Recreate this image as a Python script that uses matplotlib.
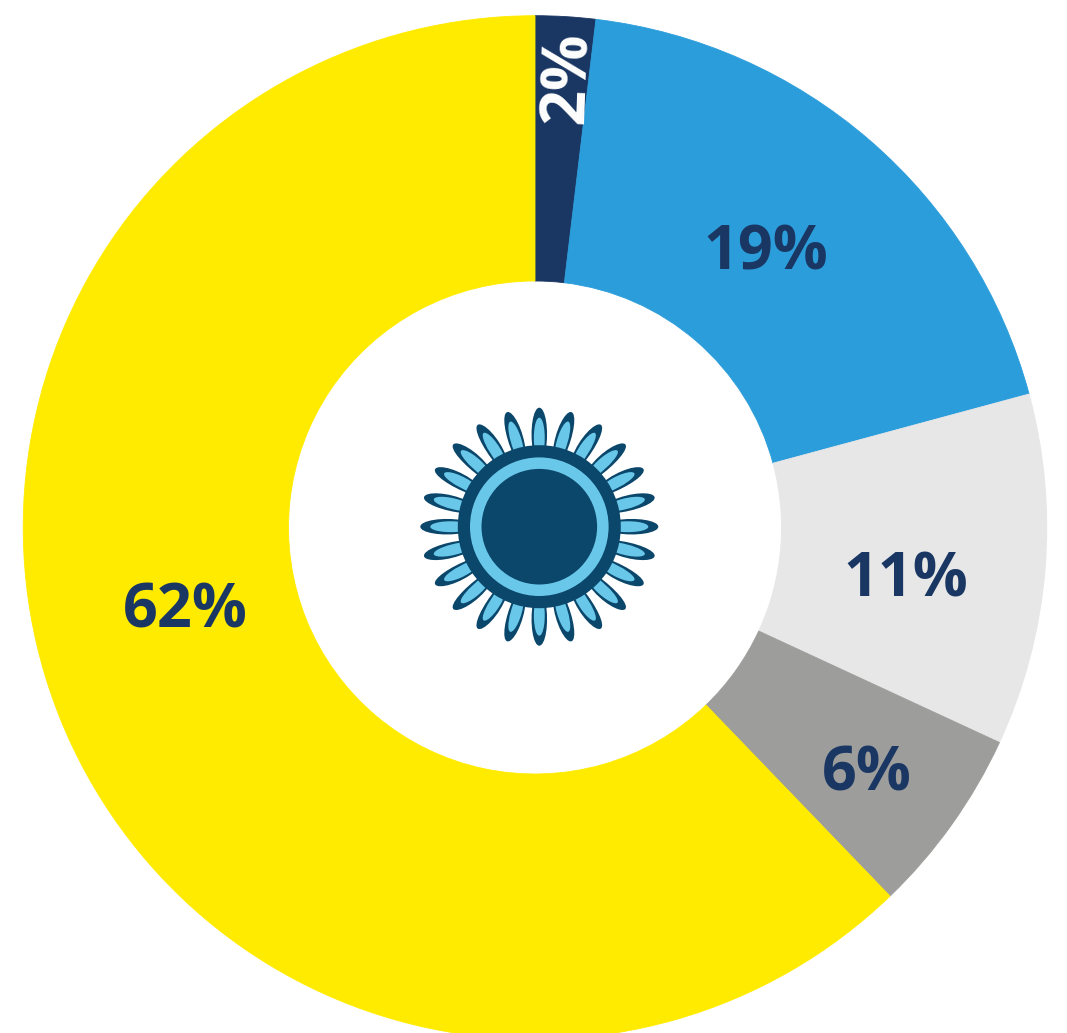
import numpy as np
import matplotlib
matplotlib.use("Agg")
import matplotlib.pyplot as plt
from matplotlib.patches import Circle, PathPatch
from matplotlib.path import Path
from matplotlib.transforms import Affine2D

values = [1.9, 18.9, 11.1, 5.9, 62.2]
labels = ["2%", "19%", "11%", "6%", "62%"]
colors = ["#1A3763", "#2B9DDB", "#E7E7E7", "#9D9D9C", "#FFEB00"]
label_colors = ["white", "#1A3763", "#1A3763", "#1A3763", "#1A3763"]
label_xy = [(568, 77), (766, 254), (906, 581), (867, 775), (185, 612)]
label_rot = [88, 0, 0, 0, 0]
label_size = [45, 44, 44, 44, 44]

W, H = 1067, 1033
DARK, LIGHT = "#0B466B", "#69C8EA"

fig = plt.figure(figsize=(W / 100, H / 100), dpi=100)
ax = fig.add_axes([0, 0, 1, 1])
cx, cy, R, r = 535, H - 527.5, 511.8, 246.5
wedges, _ = ax.pie(values, colors=colors, center=(cx, cy), radius=R, startangle=90,
                   counterclock=False, wedgeprops=dict(width=R - r, linewidth=0.6),
                   frame=False)
for w in wedges:
    w.set_edgecolor(w.get_facecolor())
ax.set_xlim(0, W)
ax.set_ylim(0, H)
ax.set_aspect("equal")
ax.axis("off")

for t, (x, y), c, rot, s in zip(labels, label_xy, label_colors, label_rot, label_size):
    ax.text(x, H - y, t, color=c, fontsize=s, fontweight="bold", family="Open Sans",
            ha="center", va="center", rotation=rot, rotation_mode="anchor")

# sun emblem
sx, sy = 539.3, H - 526.7


def petal(r0, r1, hw, lean):
    """Rounded petal pointing along +y from radius r0 to r1, leaning sideways."""
    L = r1 - r0
    verts = [(-hw * 0.8, r0), (-hw * 1.25, r0 + L * 0.5), (-hw * 0.75 + lean, r0 + L * 1.0),
             (lean, r1), (hw * 0.75 + lean, r0 + L * 1.0), (hw * 1.25, r0 + L * 0.5),
             (hw * 0.8, r0), (-hw * 0.8, r0)]
    codes = [Path.MOVETO, Path.CURVE4, Path.CURVE4, Path.CURVE4,
             Path.CURVE4, Path.CURVE4, Path.CURVE4, Path.CLOSEPOLY]
    return Path(verts, codes)


for a in np.arange(0, 360, 15):
    tr = Affine2D().rotate_deg(-a).translate(sx, sy) + ax.transData
    lean = 2.5 * np.sin(np.radians(2 * a))
    ax.add_patch(PathPatch(petal(76, 119, 8.0, lean), fc=DARK, ec="none", transform=tr, zorder=3))
    ax.add_patch(PathPatch(petal(76, 109, 5.6, lean * 0.6), fc=LIGHT, ec="none", transform=tr, zorder=4))
ax.add_patch(Circle((sx, sy), 81.5, fc=DARK, ec="none", zorder=5))
ax.add_patch(Circle((sx, sy), 69.3, fc=LIGHT, ec="none", zorder=6))
ax.add_patch(Circle((sx, sy), 57.8, fc=DARK, ec="none", zorder=7))

fig.savefig("out.png", dpi=100, facecolor="white")
